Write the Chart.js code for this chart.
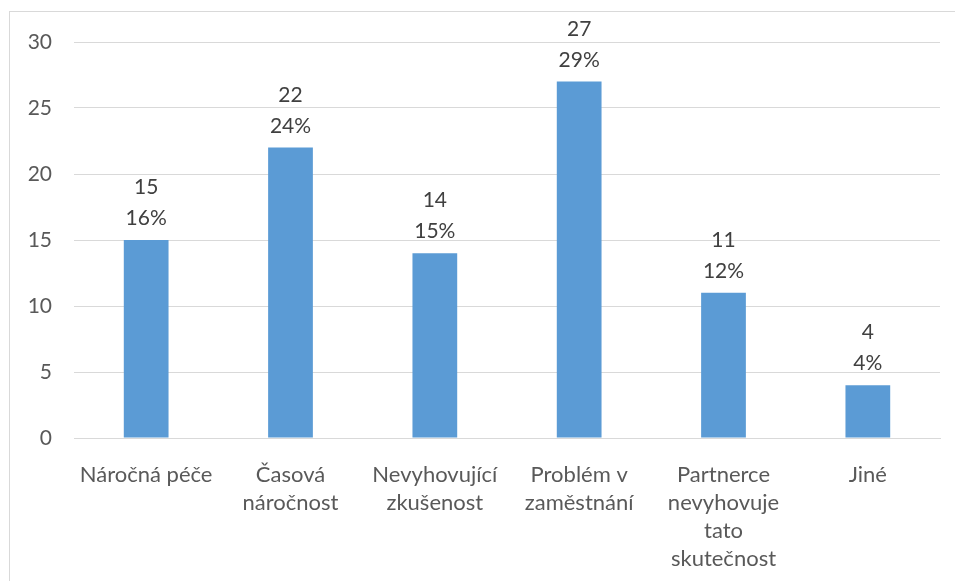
<!DOCTYPE html>
<html>
<head>
<meta charset="utf-8">
<script src="https://cdn.jsdelivr.net/npm/chart.js@4/dist/chart.umd.min.js"></script>
<style>
  html, body { margin: 0; padding: 0; background: #fff; }
  #wrap { position: relative; width: 955px; height: 581px; overflow: hidden; }
  #frame { position: absolute; left: 9px; top: 11px; width: 1000px; height: 700px;
           border-left: 1px solid #d9d9d9; border-top: 1px solid #d9d9d9; }
  canvas { position: absolute; left: 0; top: 0; }
</style>
</head>
<body>
<div id="wrap">
  <div id="frame"></div>
  <canvas id="graf" width="955" height="581"></canvas>
</div>
<script>
// Důvody – počet odpovědí a podíl
const kategorie = [
    'Náročná péče',
    ['Časová', 'náročnost'],
    ['Nevyhovující', 'zkušenost'],
    ['Problém v', 'zaměstnání'],
    ['Partnerce', 'nevyhovuje', 'tato', 'skutečnost'],
    'Jiné'
];
const pocty = [15, 22, 14, 27, 11, 4];
const podily = ['16%', '24%', '15%', '29%', '12%', '4%'];
const osaY = [0, 5, 10, 15, 20, 25, 30];

const pismo = 'Lato, "Open Sans", sans-serif';

// popisky nad sloupci: počet a procenta
const popisky = {
    id: 'popisky',
    afterDatasetsDraw(chart) {
        const ctx = chart.ctx;
        const meta = chart.getDatasetMeta(0);
        ctx.save();
        ctx.fillStyle = '#404040';
        ctx.font = '21px ' + pismo;
        ctx.textAlign = 'center';
        ctx.textBaseline = 'alphabetic';
        meta.data.forEach((bar, i) => {
            ctx.fillText(podily[i], bar.x, bar.y - 15);
            ctx.fillText(String(pocty[i]), bar.x, bar.y - 46);
        });
        ctx.restore();
    }
};

const ctx = document.getElementById('graf').getContext('2d');
const graf = new Chart(ctx, {
    type: 'bar',
    data: {
        labels: kategorie,
        datasets: [{
            data: pocty,
            backgroundColor: '#5b9bd5',
            barPercentage: 0.62,
            categoryPercentage: 0.5
        }]
    },
    options: {
        responsive: false,
        animation: false,
        events: [],
        layout: { padding: { left: 0, right: 15, top: 42, bottom: 0 } },
        plugins: { legend: { display: false }, tooltip: { enabled: false } },
        scales: {
            x: {
                grid: { display: false },
                border: { display: true, color: '#d9d9d9', width: 1 },
                ticks: {
                    color: '#595959',
                    font: { family: pismo, size: 22, lineHeight: 1.27 },
                    padding: 15,
                    maxRotation: 0,
                    autoSkip: false
                },
                afterFit(scale) { scale.height = 143; }
            },
            y: {
                min: 0,
                max: 30,
                afterBuildTicks(scale) { scale.ticks = osaY.map(v => ({ value: v })); },
                grid: { color: '#d9d9d9', drawTicks: false },
                border: { display: false },
                ticks: {
                    color: '#595959',
                    font: { family: pismo, size: 21 },
                    padding: 22
                },
                afterFit(scale) { scale.width = 74; }
            }
        }
    },
    plugins: [popisky]
});
</script>
</body>
</html>
